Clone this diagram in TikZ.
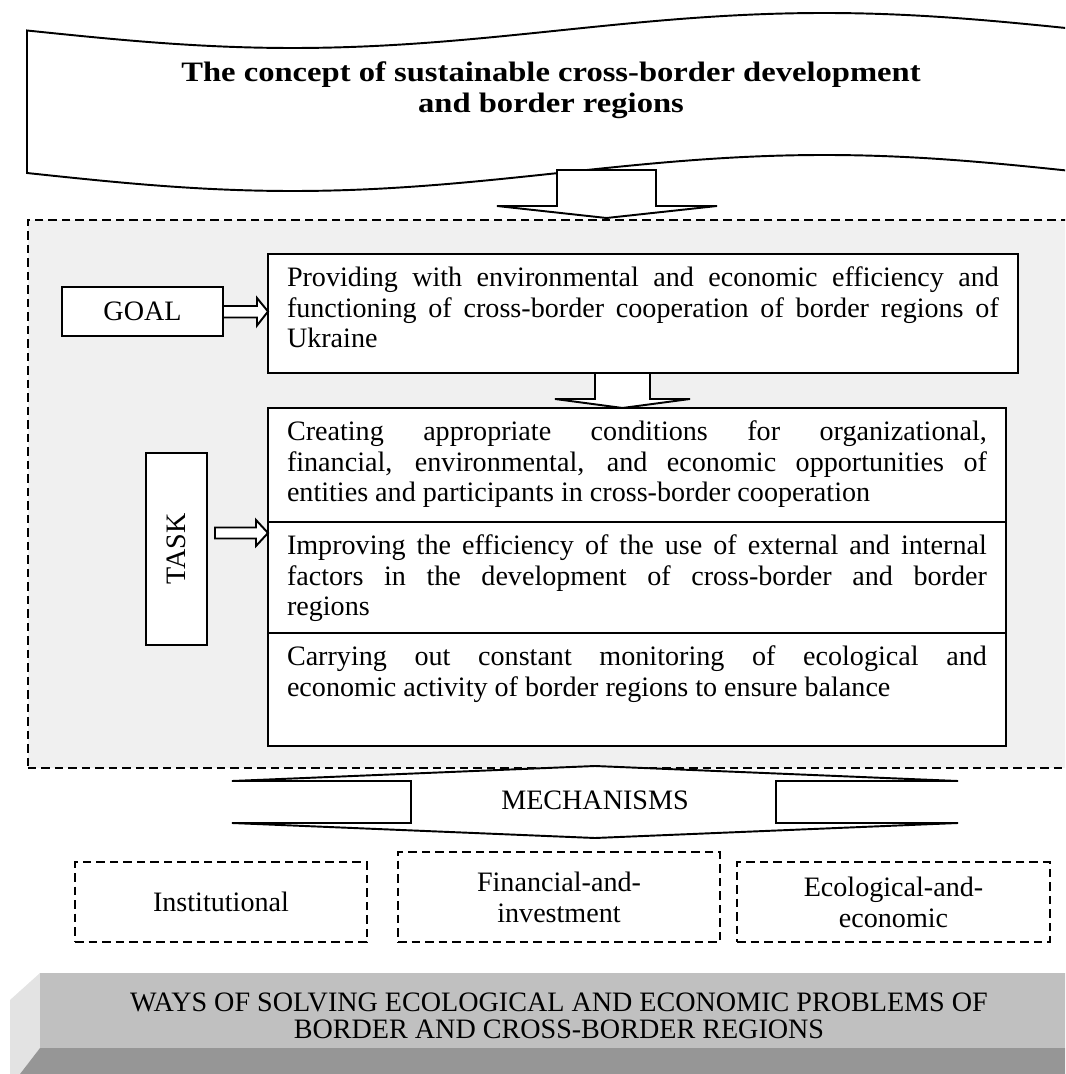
\documentclass[tikz,border=0pt]{standalone}
\usepackage{fontspec}
\setmainfont{Liberation Serif}
\usetikzlibrary{calc, positioning}
\definecolor{framefill}{HTML}{F0F0F0}
\definecolor{waysfront}{HTML}{C0C0C0}
\definecolor{waysside}{HTML}{E3E3E3}
\definecolor{waysbottom}{HTML}{969696}

\begin{document}
\begin{tikzpicture}[x=0.02cm, y=-0.02cm, line width=1.1pt, font=\fontsize{16}{17.6}\selectfont]
		\tikzstyle{tagbox} = [draw, fill=white, inner sep=0pt, outer sep=0pt, align=center]
		\tikzstyle{cellbox} = [draw, fill=white, inner xsep=0.38cm, inner ysep=0pt, outer sep=0pt, anchor=north west]
		\tikzstyle{kindbox} = [draw, dash pattern=on 0.17cm off 0.1cm, inner sep=0pt, align=center]
		\tikzstyle{blockarrow} = [draw, fill=white, line join=miter]
		\def\celltext#1#2#3{\parbox[c][#1][t]{#2}{\vspace*{0.21cm}\strut #3}}

		\useasboundingbox (0,0) rectangle (1065,1074);
		\clip (0,0) rectangle (1065,1074);

		% concept banner
		\draw[fill=white]
			plot[domain=27:1090, samples=80, smooth] (\x, {30.5+17.5*sin((\x-27)/1063*360)})
			-- plot[domain=1090:27, samples=80, smooth] (\x, {173+18*sin((\x-27)/1063*360)})
			-- cycle;
		\node[font=\bfseries\fontsize{16}{17.6}\selectfont] (concept) at (551,91)
			{\scalebox{1.16}[1]{\begin{tabular}{@{}c@{}}The concept of sustainable cross-border development\\ and border regions\end{tabular}}};

		% dotted frame
		\node[draw, dash pattern=on 0.17cm off 0.1cm, fill=framefill, minimum width=21cm, minimum height=10.96cm,
			anchor=north west, inner sep=0pt] (frame) at (27,219) {};
		\draw[blockarrow] (557,170) -- (656,170) -- (656,206) -- (717,206) -- (606.5,218) -- (497,206) -- (557,206) -- cycle;

		% goal
		\node[tagbox, minimum width=3.22cm, minimum height=0.98cm] (goal) at (142.5,311.5) {GOAL};
		\node[cellbox] (goaltxt) at (268,254) {\celltext{2.38cm}{14.24cm}{Providing with environmental and economic efficiency and\linebreak functioning of cross-border cooperation of border regions of\linebreak Ukraine}};
		\draw[blockarrow] ($(goal.east)+(0,-5.5)$) -- ++(34,0) -- ++(0,-8) -- (goaltxt.west |- goal.east)
			-- ++(-11,14) -- ++(0,-8) -- ++(-34,0) -- cycle;
		\draw[blockarrow] ($(goaltxt.south west)+(327,0)$) -- ++(55,0) -- ++(0,26) -- ++(40,0)
			-- ++(-67.5,9) -- ++(-67.5,-9) -- ++(40,0) -- cycle;

		% tasks
		\node[cellbox] (t1) at (268,408) {\celltext{2.28cm}{14cm}{Creating appropriate conditions for organizational,\linebreak financial, environmental, and economic opportunities of\linebreak entities and participants in cross-border cooperation}};
		\node[cellbox] (t2) at (t1.south west) {\celltext{2.22cm}{14cm}{Improving the efficiency of the use of external and internal\linebreak factors in the development of cross-border and border\linebreak regions}};
		\node[cellbox] (t3) at (t2.south west) {\celltext{2.26cm}{14cm}{Carrying out constant monitoring of ecological and\linebreak economic activity of border regions to ensure balance}};
		\node[tagbox, rotate=90, minimum width=3.84cm, minimum height=1.22cm] (task) at (176.5,549) {TASK};
		\coordinate (tasktip) at ($(t1.south west)+(0,11)$);
		\draw[blockarrow] (tasktip) -- ++(-12,-13) -- ++(0,7.5) -- ++(-41,0) -- ++(0,11) -- ++(41,0) -- ++(0,7.5) -- cycle;

		% mechanisms
		\draw[blockarrow] (232,781) -- (595,766) -- (958,781) -- (776,781) -- (776,823) -- (958,823)
			-- (595,838) -- (232,823) -- (411,823) -- (411,781) -- cycle;
		\node (mechanisms) at (595,800) {MECHANISMS};

		\node[kindbox, minimum width=5.84cm, minimum height=1.6cm] (inst) at (221,902) {Institutional};
		\node[kindbox, minimum width=6.44cm, minimum height=1.8cm] (fin) at (559,897) {Financial-and-\\investment};
		\node[kindbox, minimum width=6.26cm, minimum height=1.6cm] (eco) at (893.5,902) {Ecological-and-\\economic};

		% ways
		\fill[waysside] (40,973) -- (10,1000) -- (10,1074) -- (20,1074) -- (40,1048) -- cycle;
		\fill[waysbottom] (40,1048) -- (1100,1048) -- (1100,1074) -- (20,1074) -- cycle;
		\fill[waysfront] (40,973) rectangle (1100,1048);
		\node[align=center] (ways) at (559,1016) {WAYS OF SOLVING ECOLOGICAL AND ECONOMIC PROBLEMS OF\\[-2.3pt] BORDER AND CROSS-BORDER REGIONS};
	\end{tikzpicture}
\end{document}
